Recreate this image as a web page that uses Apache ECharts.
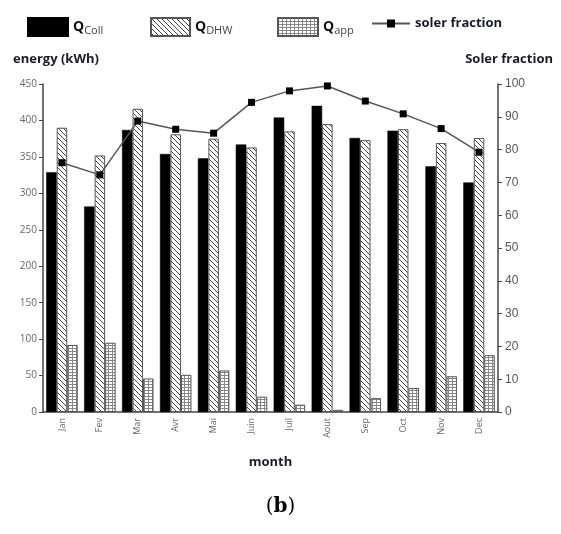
<!DOCTYPE html>
<html>
<head>
<meta charset="utf-8">
<script src="https://cdn.jsdelivr.net/npm/echarts@6/dist/echarts.min.js"></script>
<style>
  html, body { margin: 0; padding: 0; background: #fff; }
  #chart { width: 561px; height: 534px; }
</style>
</head>
<body>
<div id="chart"></div>
<script>
var months = ['Jan', 'Fev', 'Mar', 'Avr', 'Mai', 'Juin', 'Juil', 'Aout', 'Sep', 'Oct', 'Nov', 'Dec'];
var qColl = [329, 282, 387, 354, 348, 367, 404, 420, 376, 386, 337, 315];
var qDhw = [390, 352, 416, 381, 375, 363, 385, 395, 373, 388, 369, 376];
var qApp = [92, 95, 46, 51, 57, 21, 10, 3, 19, 33, 49, 78];
var solarFraction = [76, 72.3, 88.7, 86.2, 85, 94.4, 97.9, 99.4, 94.8, 90.9, 86.4, 79.2];

// hatch pattern for Q_DHW
function make_hatch() {
    var c = document.createElement('canvas');
    c.width = 5; c.height = 5;
    var ctx = c.getContext('2d');
    ctx.fillStyle = '#fff';
    ctx.fillRect(0, 0, 5, 5);
    ctx.strokeStyle = '#444';
    ctx.lineWidth = 1;
    for (var x0 = -5; x0 <= 5; x0 += 5) {
        ctx.beginPath();
        ctx.moveTo(x0, 0);
        ctx.lineTo(x0 + 5, 5);
        ctx.stroke();
    }
    return c;
}

// small grid pattern for Q_app
function make_grid() {
    var c = document.createElement('canvas');
    c.width = 4; c.height = 3;
    var ctx = c.getContext('2d');
    ctx.fillStyle = '#fff';
    ctx.fillRect(0, 0, 4, 3);
    ctx.fillStyle = '#888';
    ctx.fillRect(0, 0, 1, 3);
    ctx.fillRect(0, 0, 4, 1);
    return c;
}

var legendRich = {
    q: {fontFamily: 'Open Sans', fontWeight: 'bold', fontSize: 14, color: '#111'},
    s: {fontFamily: 'Open Sans', fontSize: 11, color: '#444', padding: [8, 0, 0, 0]},
    t: {fontFamily: 'Open Sans', fontWeight: 'bold', fontSize: 13, color: '#1a1a2e'}
};

function legend_at(name, left, w, h, icon) {
    return {
        data: [{name: name, icon: icon}],
        left: left,
        top: 12,
        itemWidth: w,
        itemHeight: h,
        itemGap: 4,
        textStyle: {rich: legendRich},
        formatter: function (n) {
            if (n == 'Q_Coll') return '{q|Q}{s|Coll}';
            if (n == 'Q_DHW') return '{q|Q}{s|DHW}';
            if (n == 'Q_app') return '{q|Q}{s|app}';
            return '{t|' + n + '}';
        }
    };
}

var chart = echarts.init(document.getElementById('chart'));
chart.setOption({
    animation: false,
    backgroundColor: '#fff',
    legend: [
        legend_at('Q_Coll', 22, 40, 18, 'rect'),
        legend_at('Q_DHW', 145, 39, 18, 'rect'),
        legend_at('Q_app', 272, 40, 18, 'rect'),
        legend_at('soler fraction', 366, 38, 10)
    ],
    grid: {left: 43, right: 63, top: 84, bottom: 122},
    xAxis: {
        type: 'category',
        data: months,
        name: 'month',
        nameLocation: 'middle',
        nameGap: 44,
        nameTextStyle: {fontFamily: 'Open Sans', fontWeight: 'bold', fontSize: 13, color: '#1a1a2e'},
        axisLine: {lineStyle: {color: '#444', width: 1.5}},
        axisTick: {alignWithLabel: true, length: 5, lineStyle: {color: '#333'}},
        axisLabel: {rotate: 90, fontSize: 9, color: '#666', margin: 6, fontFamily: 'Open Sans'}
    },
    yAxis: [{
        type: 'value',
        min: 0,
        max: 450,
        interval: 50,
        name: 'energy (kWh)',
        nameGap: 18,
        nameTextStyle: {fontFamily: 'Open Sans', fontWeight: 'bold', fontSize: 13, color: '#1a1a2e', align: 'left', padding: [0, 0, 0, -30]},
        splitLine: {show: false},
        axisLine: {show: true, lineStyle: {color: '#444', width: 1.5}},
        axisTick: {show: true, length: 4, lineStyle: {color: '#444'}},
        axisLabel: {fontSize: 10, color: '#666', margin: 6, fontFamily: 'Open Sans'}
    }, {
        type: 'value',
        min: 0,
        max: 100,
        interval: 10,
        name: 'Soler fraction',
        nameGap: 18,
        nameTextStyle: {fontFamily: 'Open Sans', fontWeight: 'bold', fontSize: 13, color: '#1a1a2e', align: 'right', padding: [0, -55, 0, 0]},
        splitLine: {show: false},
        axisLine: {show: true, lineStyle: {color: '#444', width: 1.5}},
        axisTick: {show: true, length: 4, lineStyle: {color: '#444'}},
        axisLabel: {fontSize: 12, color: '#555', margin: 7, fontFamily: 'Liberation Sans'}
    }],
    series: [{
        name: 'Q_Coll',
        type: 'bar',
        data: qColl,
        barWidth: 10.5,
        barGap: '0%',
        itemStyle: {color: '#000', borderColor: '#000', borderWidth: 0.5}
    }, {
        name: 'Q_DHW',
        type: 'bar',
        data: qDhw,
        barWidth: 10.5,
        barGap: '0%',
        itemStyle: {color: {image: make_hatch(), repeat: 'repeat'}, borderColor: '#555', borderWidth: 1}
    }, {
        name: 'Q_app',
        type: 'bar',
        data: qApp,
        barWidth: 10.5,
        barGap: '0%',
        itemStyle: {color: {image: make_grid(), repeat: 'repeat'}, borderColor: '#555', borderWidth: 1}
    }, {
        name: 'soler fraction',
        type: 'line',
        yAxisIndex: 1,
        data: solarFraction,
        symbol: 'rect',
        symbolSize: 7,
        lineStyle: {color: '#555', width: 1.5},
        itemStyle: {color: '#000'}
    }],
    graphic: [{
        type: 'text',
        left: 'center',
        top: 497,
        style: {
            text: '{p|(}{b|b}{p|)}',
            rich: {
                p: {fontFamily: 'DejaVu Serif', fontSize: 20, fill: '#000', color: '#000'},
                b: {fontFamily: 'DejaVu Serif', fontWeight: 'bold', fontSize: 20, fill: '#000', color: '#000'}
            }
        }
    }]
});
</script>
</body>
</html>
